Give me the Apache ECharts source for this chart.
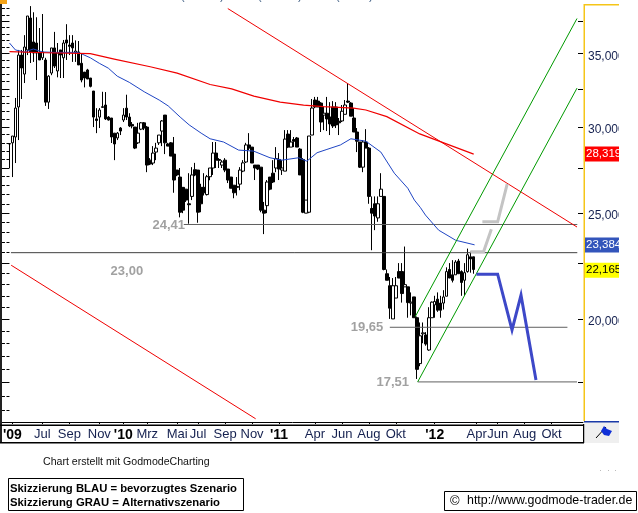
<!DOCTYPE html>
<html><head><meta charset="utf-8">
<style>html,body{margin:0;padding:0;background:#fff}#c{width:638px;height:513px}</style>
<script src="https://cdn.jsdelivr.net/npm/echarts@6/dist/echarts.min.js"></script>
</head><body><div id="c"></div>
<script>
// weekly candles: [open, close, low, high]
const candles = [
[28.95,28.93,27.5,28.99],[29.0,29.42,26.98,29.42],[29.36,31.21,27.79,31.88],[31.28,34.9,29.17,35.28],
[34.9,33.96,31.81,35.28],[33.53,35.5,32.9,36.4],[35.28,37.9,34.9,37.9],[37.74,35.13,34.32,38.7],
[35.88,35.05,34.4,38.2],[35.8,35.05,33.11,37.8],[35.13,34.54,34.54,36.95],[34.7,35.13,34.54,38.06],
[34.54,31.6,31.35,34.7],[31.6,33.38,31.15,33.45],[33.6,35.43,33.45,35.43],[35.43,34.1,33.96,36.65],
[33.75,35.05,33.3,35.8],[35.28,34.9,33.25,35.28],[34.7,35.8,33.25,36.03],[36.03,35.8,34.54,37.25],
[35.65,35.55,34.9,36.4],[35.8,35.43,34.4,36.4],[35.1,35.2,34.4,36.0],[35.13,34.18,34.18,35.95],
[34.3,33.11,32.95,35.05],[33.67,33.25,32.6,33.67],[33.82,33.18,33.18,33.9],[33.25,32.67,32.6,33.25],
[32.35,30.62,29.98,32.35],[30.5,30.4,29.6,31.2],[30.62,31.08,29.92,31.21],[31.25,31.3,31.25,32.3],
[31.41,30.5,30.43,32.28],[30.62,30.43,30.4,30.68],[30.56,29.36,28.99,30.56],[29.6,28.93,27.96,29.6],
[29.3,29.6,29.17,29.67],[29.92,29.73,29.48,29.98],[30.43,30.75,30.3,31.2],[31.2,30.62,30.43,32.1],
[30.62,30.05,29.98,30.87],[30.15,30.05,29.9,30.3],[29.98,28.68,28.62,29.98],[29.0,29.6,28.93,30.25],
[29.85,30.25,29.79,30.3],[30.25,29.92,29.79,30.3],[29.98,27.67,27.26,30.05],[27.96,27.73,27.67,28.08],
[27.79,28.38,27.67,28.8],[28.44,28.68,27.96,29.0],[29.0,29.48,28.87,29.48],[29.73,30.37,28.8,30.43],
[30.75,29.0,28.32,30.75],[28.93,28.8,28.8,29.0],[29.0,28.2,28.2,29.05],[28.32,26.81,26.1,29.36],
[27.38,27.1,27.03,27.38],[26.98,25.05,24.78,27.5],[26.4,25.16,25.0,26.4],[26.3,25.7,25.6,26.3],
[25.5,25.45,24.45,27.2],[25.9,27.1,25.7,27.55],[27.4,27.1,27.03,27.8],[27.38,25.05,24.5,27.38],
[26.4,25.5,25.05,26.6],[26.4,26.1,25.95,27.2],[26.0,27.0,25.95,27.1],[27.0,27.5,26.8,27.5],
[27.5,28.38,27.1,29.05],[28.38,27.96,27.5,29.05],[28.0,27.95,27.5,28.08],[27.67,27.85,27.5,27.96],
[27.96,27.38,27.26,28.08],[27.44,26.81,26.64,27.44],[26.98,26.35,26.35,26.98],[26.52,26.1,25.8,26.52],
[26.45,26.4,25.95,26.98],[26.58,27.38,26.24,27.55],[27.32,27.8,27.26,27.96],[27.85,28.87,27.79,29.0],
[28.87,28.68,28.56,29.6],[28.74,27.79,27.79,28.74],[27.67,27.5,26.81,27.67],[27.67,27.44,27.38,27.67],
[27.55,25.16,25.05,27.55],[25.16,25.0,23.92,25.6],[25.4,26.7,25.0,26.81],[26.98,26.3,26.24,26.98],
[27.2,26.7,26.64,27.96],[27.5,28.05,27.26,28.74],[28.0,27.44,26.81,28.38],[27.38,27.5,27.1,27.96],
[27.32,29.23,27.32,29.79],[29.54,28.74,28.68,29.79],[28.74,29.05,28.74,29.79],[29.2,29.1,28.74,29.36],
[29.3,28.74,28.74,29.36],[28.62,27.1,27.1,28.68],[28.0,25.05,25.0,28.08],[25.0,25.7,25.0,25.7],
[25.05,29.42,25.0,29.42],[29.48,31.21,29.48,31.81],[31.74,31.28,31.2,31.95],[31.67,31.28,31.28,31.95],
[31.54,30.3,29.67,31.6],[30.75,30.87,29.79,31.28],[30.87,30.5,29.73,31.95],[30.62,30.18,29.48,31.6],
[31.28,30.05,29.92,31.67],[31.28,30.12,29.92,31.6],[30.35,30.25,29.48,30.56],[30.37,31.0,30.3,31.41],
[30.8,31.41,30.8,31.74],[31.67,31.6,31.54,32.9],[31.54,30.68,30.68,31.6],[30.56,29.67,29.67,31.21],
[29.67,29.1,28.44,29.92],[29.05,27.55,27.5,29.05],[27.55,29.05,27.26,29.17],[29.05,28.68,28.68,29.85],
[28.68,25.9,25.5,28.74],[25.25,25.0,23.12,25.9],[25.5,24.85,24.12,25.9],[24.75,25.5,24.55,25.9],
[25.9,26.3,25.9,27.2],[25.9,22.2,22.16,25.9],[22.0,21.7,21.7,22.2],[21.45,20.46,20.0,21.85],
[20.0,21.45,20.0,21.8],[20.9,21.45,20.9,21.85],[22.1,21.8,21.8,22.5],[22.1,21.1,20.7,22.5],
[21.4,21.5,21.4,23.3],[21.4,20.7,20.05,21.4],[20.68,20.72,20.15,21.15],[20.95,20.05,20.05,20.95],
[20.05,17.98,17.62,20.1],[18.2,19.3,18.1,19.85],[19.38,19.42,19.0,19.85],[19.33,18.97,18.9,19.45],
[18.73,20.05,18.7,20.5],[20.05,20.72,20.05,20.75],[20.6,20.75,20.05,21.0],[20.85,20.37,20.3,21.15],
[20.68,20.37,20.05,21.0],[20.68,20.95,20.4,21.25],[20.98,22.1,20.98,22.3],[22.2,21.8,21.8,22.5],
[21.95,21.7,21.6,22.64],[21.95,22.55,21.95,22.64],[22.6,22.0,22.0,22.7],[22.1,21.6,21.0,22.16],
[21.7,22.05,21.0,22.5],[22.1,22.9,22.05,23.2],[22.8,22.7,22.05,23.05],[22.8,22.2,22.0,22.8]
];
// [week index, value]
const blueAverage = [[0,35.8],[2,35.28],[5,35.13],[8,35.35],[11,35.13],[15,35.1],[23,35.1],[27,34.7],[30,34.3],[33,33.95],[36,33.38],[40,32.95],[45,32.3],[50,31.74],[53,31.35],[57,30.62],[60,30.12],[64,29.6],[67,29.25],[71.5,29.05],[76.5,28.56],[81.5,28.5],[87,28.1],[91,27.96],[96.5,28.1],[99.3,27.9],[102.7,28.4],[106,28.6],[110.5,28.87],[114,29.25],[119,29.1],[124,28.44],[128.5,27.2],[133,26.35],[135.2,25.7],[137.2,25.3],[138.9,24.9],[143.3,24.12],[149,23.61],[155.3,23.384]];
const redAverage = [[0,35.15],[12,35.07],[27,35.0],[35,34.6],[47,34.05],[56,33.6],[67,32.8],[74.2,32.5],[81.6,32.0],[90.4,31.6],[98.2,31.4],[104.9,31.3],[114.9,31.2],[119,31.08],[126,30.65],[137,29.55],[155,28.319]];
const redTrendUpper = [[72.9,38.5],[189.5,24.28]];
const redTrendLower = [[0.57,22.4],[82.2,16.2]];
const greenChannelLower = [[136.3,17.51],[189.5,32.55]];
const greenChannelUpper = [[135.5,20.1],[189.5,37.7]];
const level2441 = [[58.2,24.41],[189.6,24.41]];
const level2300 = [[0.5,23.0],[189.6,23.0]];
const level1965 = [[127,19.65],[186.3,19.65]];
const level1751 = [[136.3,17.51],[189.5,17.51]];
const blueScenario = [[155.9,21.98],[163,21.98],[167.8,19.54],[170.8,21.03],[175.8,17.58]];
const grayScenarioA = [[153.9,23.05],[158.3,23.05],[160.9,24.17]];
const grayScenarioB = [[157.9,24.55],[163,24.55],[166.2,26.6]];
const levelNotes = [[53.2,24.37,'24,41'],[39.2,22.12,'23,00'],[119.4,19.66,'19,65'],[128,17.5,'17,51']];
const priceTags = [[28.319,'28,319','#ff0000','#fff'],[23.384,'23,384','#3355bb','#fff'],[22.165,'22,165','#ffff00','#000']];
const monthLabels = {3:"'09",13:'Jul',22:'Sep',32:'Nov',40:"'10",48:'Mrz',58:'Mai',65:'Jul',74:'Sep',83:'Nov',92:"'11",104:'Apr',113:'Jun',122:'Aug',131:'Okt',144:"'12",158:'Apr',165:'Jun',174:'Aug',183:'Okt'};
const majorTicks = [17.5,20,22.5,25,27.5,30,32.5,35,37.5];
const tickLabels = [20,25,30,35];
const minorTicks = [];
for (let v=16.5; v<=38.5; v+=0.5) minorTicks.push(v);
const topFragments = [[181,'('],[205,'/'],[220,')'],[258,'('],[283,'/'],[298,')'],[336,'('],[354,'/'],[369,')']];

const WEEKS = 194, YMIN = 16.09, YMAX = 38.79;
const cats = Array.from({length:WEEKS},(_,i)=>monthLabels[i]||'');
const grid = {left:1, top:5, width:582, height:417};
const yBase = {type:'log', min:YMIN, max:YMAX, logBase:10, splitLine:{show:false}, minorTick:{show:false}, axisLine:{show:false}, axisLabel:{show:false}};
function yA(position, ticks, len, extra){
  return Object.assign({}, yBase, {position, axisTick:{show:true, inside:true, length:len, customValues:ticks, lineStyle:{color:'#000',width:1}}}, extra||{});
}
function ln(data,color,width,z,extra){
  return Object.assign({type:'line', xAxisIndex:1, yAxisIndex:0, data, symbol:'none', silent:true, z:z||3, lineStyle:{color,width,join:'miter'}, animation:false}, extra||{});
}
const tagLine = {markLine:{silent:true, symbol:'none', animation:false, lineStyle:{color:'rgba(0,0,0,0)',width:0},
  data:priceTags.map(t=>({yAxis:t[0], label:{show:true, position:'end', distance:2, formatter:t[1], fontSize:11.5, color:t[3], backgroundColor:t[2], padding:[2,3,1,1]}}))}};
const option = {
  animation:false, backgroundColor:'#fff',
  textStyle:{fontFamily:'"Liberation Sans",Arial,sans-serif'},
  grid,
  xAxis:[
    {type:'category', data:cats, position:'bottom', boundaryGap:true,
     axisLine:{show:true, lineStyle:{color:'#000',width:1}},
     axisTick:{show:true, alignWithLabel:true, length:2, interval:(i)=>!!monthLabels[i], lineStyle:{color:'#000'}},
     axisLabel:{show:true, interval:0, margin:6, hideOverlap:false, fontSize:13, color:'#14204f',
       formatter:(v)=> v ? (v[0]==="'" ? '{y|'+v+'}' : v) : '',
       rich:{y:{fontSize:14, fontWeight:'bold', color:'#000', fontFamily:'"Liberation Sans",Arial,sans-serif'}}},
     splitLine:{show:false}},
    {type:'value', min:-2.5, max:191.5, show:false}
  ],
  yAxis:[
    yA('right', minorTicks, 3),
    yA('right', majorTicks, 5, {axisLabel:{show:true, inside:false, margin:5, verticalAlign:'top', lineHeight:5, customValues:tickLabels, fontSize:12, color:'#14204f',
        formatter:(v)=>Number(v*1000).toLocaleString('en-US')}}),
    yA('left', minorTicks, 3),
    yA('left', majorTicks, 5)
  ],
  series:[
    {type:'candlestick', xAxisIndex:0, yAxisIndex:0, data:[null,null].map(()=>['-','-','-','-']).concat(candles), barWidth:3, silent:true, z:2,
     itemStyle:{color:'#fff',color0:'#000',borderColor:'#000',borderColor0:'#000',borderWidth:1}},
    ln(level2441,'#606060',1), ln(level2300,'#404040',1,3,tagLine), ln(level1965,'#606060',1), ln(level1751,'#606060',1),
    ln(blueAverage,'#1f45c4',1,4), ln(redAverage,'#f00000',1.2,4),
    ln(redTrendUpper,'#f00000',1,4), ln(redTrendLower,'#f00000',1,4),
    ln(greenChannelLower,'#009a00',1,4), ln(greenChannelUpper,'#009a00',1,4),
    ln(grayScenarioA,'#c4c4c4',3,5), ln(grayScenarioB,'#c4c4c4',3,5),
    ln(blueScenario,'#3d48c8',3,5),
    {type:'scatter', xAxisIndex:1, yAxisIndex:0, data:levelNotes.map(n=>({value:[n[0],n[1]],note:n[2]})), symbolSize:0, silent:true, z:6,
     label:{show:true, position:'inside', formatter:(p)=>p.data.note, fontSize:13, fontWeight:'bold', color:'#8a8a8a'}}
  ],
  graphic:[
    // frame of the plot
    {type:'rect', z:50, shape:{x:0,y:0,width:2,height:443}, style:{fill:'#222'}},
    {type:'rect', z:50, shape:{x:0,y:0,width:7,height:4}, style:{fill:'#f5a316'}},
    {type:'rect', z:50, shape:{x:0,y:424.5,width:584,height:1.5}, style:{fill:'#000'}},
    {type:'rect', z:50, shape:{x:0,y:442,width:584,height:1.5}, style:{fill:'#000'}},
    {type:'rect', z:50, shape:{x:583,y:424,width:1.5,height:19}, style:{fill:'#000'}},
    {type:'rect', z:50, shape:{x:584,y:4,width:35,height:1.5}, style:{fill:'#f5c518'}},
    {type:'rect', z:50, shape:{x:583.5,y:4,width:1.5,height:417}, style:{fill:'#f5c518'}},
    {type:'rect', z:50, shape:{x:584.5,y:422,width:34.5,height:21}, style:{fill:'#efefef'}},
    {type:'rect', z:51, shape:{x:584,y:421,width:35,height:1.5}, style:{fill:'#1a3aa8'}},
    {type:'rect', z:60, shape:{x:619,y:0,width:19,height:444}, style:{fill:'#fff'}},
    // flag icon
    {type:'line', z:52, shape:{x1:596,y1:438,x2:606,y2:427}, style:{stroke:'#000',lineWidth:1}},
    {type:'polygon', z:52, shape:{points:[[604,426],[607,429],[612,431],[609,436],[604,435],[601,431]]}, style:{fill:'#1030d8'}},
    // faint dots
    {type:'rect', z:52, shape:{x:600,y:470,width:1,height:1}, style:{fill:'#bbb'}},
    {type:'rect', z:52, shape:{x:608,y:470,width:1,height:1}, style:{fill:'#bbb'}},
    {type:'rect', z:52, shape:{x:615,y:470,width:1,height:1}, style:{fill:'#bbb'}},
    // clipped legend remnants along the top edge
    ...topFragments.map(f=>({type:'text', z:52, style:{x:f[0],y:-9,text:f[1],font:'11px "Liberation Sans",Arial,sans-serif',fill:'#3a5a80'}})),
    // footer
    {type:'text', z:52, style:{x:43,y:457,text:'Chart erstellt mit GodmodeCharting',font:'10.6px "Liberation Sans",Arial,sans-serif',fill:'#111'}},
    {type:'rect', z:52, shape:{x:8.5,y:478.5,width:235,height:32}, style:{fill:'#fff',stroke:'#000',lineWidth:1}},
    {type:'text', z:53, style:{x:10,y:483,text:'Skizzierung BLAU = bevorzugtes Szenario',font:'bold 11.3px "Liberation Sans",Arial,sans-serif',fill:'#000'}},
    {type:'text', z:53, style:{x:10,y:497,text:'Skizzierung GRAU = Alternativszenario',font:'bold 11.3px "Liberation Sans",Arial,sans-serif',fill:'#000'}},
    {type:'rect', z:52, shape:{x:444.5,y:491.5,width:192,height:19}, style:{fill:'#fff',stroke:'#000',lineWidth:1}},
    {type:'text', z:53, style:{x:450,y:495,text:'©',font:'13px "Liberation Sans",Arial,sans-serif',fill:'#000'}},
    {type:'text', z:53, style:{x:467,y:495,text:'http://www.godmode-trader.de',font:'12.4px "Liberation Sans",Arial,sans-serif',fill:'#000'}}
  ]
};
const chart = echarts.init(document.getElementById('c'),null,{renderer:'canvas'});
chart.setOption(option);
</script></body></html>
